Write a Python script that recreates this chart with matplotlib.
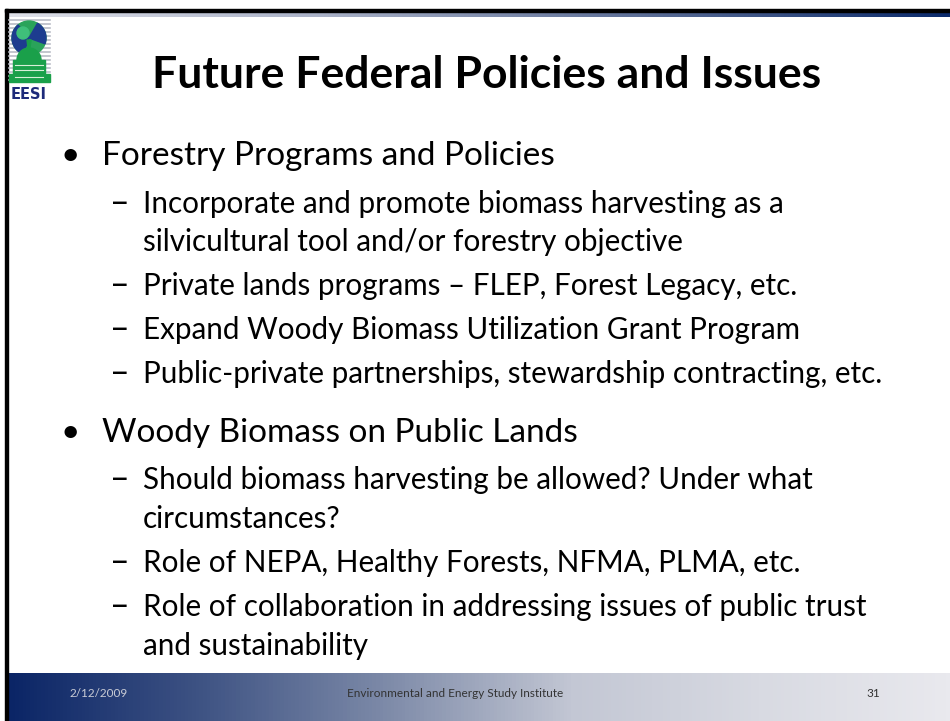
import matplotlib
matplotlib.use("Agg")
import matplotlib.pyplot as plt
from matplotlib.patches import Circle, Rectangle, Wedge, Polygon
import numpy as np

# slide content
title = "Future Federal Policies and Issues"
topics = ["Forestry Programs and Policies", "Woody Biomass on Public Lands"]
forestry_items = [
    ["Incorporate and promote biomass harvesting as a",
     "silvicultural tool and/or forestry objective"],
    ["Private lands programs \u2013 FLEP, Forest Legacy, etc."],
    ["Expand Woody Biomass Utilization Grant Program"],
    ["Public-private partnerships, stewardship contracting, etc."],
]
public_items = [
    ["Should biomass harvesting be allowed? Under what",
     "circumstances?"],
    ["Role of NEPA, Healthy Forests, NFMA, PLMA, etc."],
    ["Role of collaboration in addressing issues of public trust",
     "and sustainability"],
]
footer_date = "2/12/2009"
footer_org = "Environmental and Energy Study Institute"
slide_no = "31"

FONT = "Lato"
W, H = 950, 721

fig = plt.figure(figsize=(9.5, 7.21), dpi=100)
ax = fig.add_axes([0, 0, 1, 1])
ax.set_xlim(0, W)
ax.set_ylim(H, 0)
ax.axis("off")

# frame: black lines on top / left
ax.add_patch(Rectangle((5, 9), W, 2.5, color="black", zorder=5))
ax.add_patch(Rectangle((5, 9), 3, H, color="black", zorder=5))

# top gradient strip (light grey -> navy)
grad = np.linspace(0, 1, 256).reshape(1, -1)
top_cmap = matplotlib.colors.LinearSegmentedColormap.from_list(
    "top", ["#dfe1e9", "#a9b1c7", "#5d6f97", "#0b2a6b"])
ax.imshow(grad, cmap=top_cmap, extent=(8, W, 17, 11.5), aspect="auto", zorder=4)

# bottom footer bar (navy -> light grey)
bot_cmap = matplotlib.colors.LinearSegmentedColormap.from_list(
    "bot", [(0, "#0b2566"), (0.2, "#3d5283"), (0.4, "#7d8aa8"),
            (0.6, "#c3c7d4"), (0.8, "#d8dae2"), (1, "#e9e9ee")])
ax.imshow(grad, cmap=bot_cmap, extent=(8, W, H, 673), aspect="auto", zorder=4)

# EESI logo (rough)
for yy in range(20, 82, 4):
    ax.plot([9, 50], [yy, yy], color="#b9bcc6", lw=1.2, zorder=6)
ax.add_patch(Circle((29, 38), 17, color="#2aa35a", zorder=7))
ax.add_patch(Wedge((29, 38), 17, 110, 230, color="#1d3c8f", zorder=8))
ax.add_patch(Wedge((29, 38), 17, 300, 20, color="#1d3c8f", zorder=8))
ax.add_patch(Circle((23, 33), 6, color="#3fbf7a", zorder=8))
ax.add_patch(Polygon([[27, 40], [31, 40], [30, 48], [28, 48]], color="#1aa04a", zorder=9))
ax.add_patch(Wedge((29, 60), 12, 180, 360, color="#1aa04a", zorder=9))
ax.add_patch(Rectangle((13, 60), 32, 14, color="#1aa04a", zorder=9))
ax.add_patch(Rectangle((9, 74), 41, 8, color="#1aa04a", zorder=9))
for yy in (65, 70, 77):
    ax.plot([15, 43], [yy, yy], color="#d8efd8", lw=0.8, zorder=10)
ax.text(29, 99, "EESI", fontsize=10.5, fontweight="bold", color="#1d2a7a",
        family="DejaVu Sans", ha="center", va="baseline", zorder=10)

# title
ax.text(487, 88, title, fontsize=32, fontweight="bold", family=FONT,
        ha="center", va="baseline", color="black")

# body text
x_bullet, x_topic = 70, 102
x_dash, x_item = 120, 143
main_fs, sub_fs = 24, 21.3
topic_gap, item_gap, wrap_gap = 48, 44, 38.5

y = 165
for topic, items in zip(topics, [forestry_items, public_items]):
    ax.text(x_bullet, y, "\u2022", fontsize=main_fs, family=FONT,
            ha="center", va="baseline")
    ax.text(x_topic, y, topic, fontsize=main_fs, family=FONT, va="baseline")
    y += topic_gap
    for lines in items:
        ax.text(x_dash, y, "\u2013", fontsize=sub_fs * 1.15, family=FONT,
                ha="center", va="baseline")
        for j, line in enumerate(lines):
            ax.text(x_item, y, line, fontsize=sub_fs, family=FONT, va="baseline")
            if j < len(lines) - 1:
                y += wrap_gap
        y += item_gap
    y += 14

# footer
ax.text(70, 697, footer_date, fontsize=8.5, family=FONT, color="#c9ccd6",
        va="baseline", zorder=6)
ax.text(455, 697, footer_org, fontsize=8.5, family=FONT, color="#333333",
        ha="center", va="baseline", zorder=6)
ax.text(873, 697, slide_no, fontsize=8.5, family=FONT, color="#333333",
        ha="center", va="baseline", zorder=6)

fig.savefig("out.png", dpi=100)
